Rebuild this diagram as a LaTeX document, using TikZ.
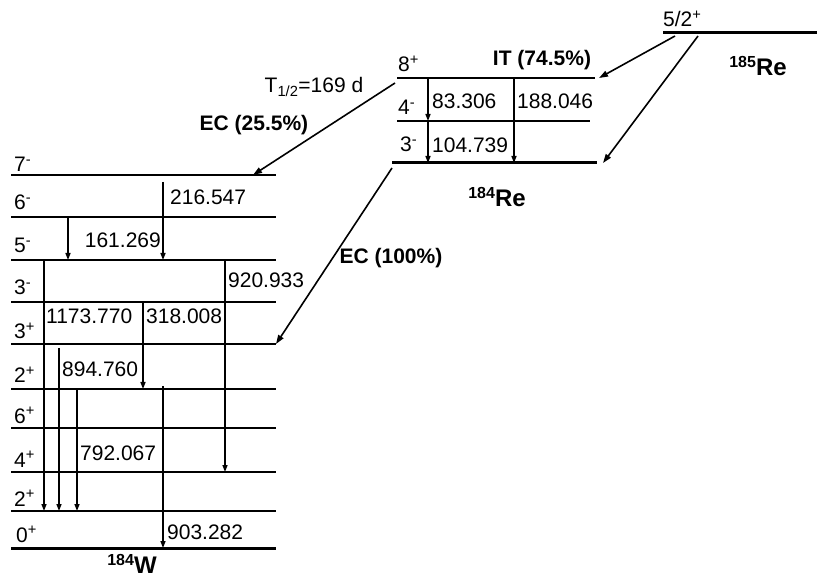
\documentclass[tikz,border=0pt]{standalone}
\usepackage{fontspec}
\setmainfont{Liberation Sans}
\usepackage{tikz}
\usetikzlibrary{arrows.meta, positioning, calc}
\newcommand{\nuc}[2]{\raisebox{8pt}{\fontsize{16}{16}\selectfont #1}#2}
\tikzset{
  lvl/.style={draw, line width=1.3pt},
  gs/.style={draw, line width=3pt},
  gam/.style={draw, -{Triangle[length=7pt, width=5pt]}, line width=1.4pt},
  dec/.style={draw, -{Triangle[length=9pt, width=6pt]}, line width=1.6pt},
}
\begin{document}
\begin{tikzpicture}[x=1pt, y=-1pt,
  every node/.style={font=\fontsize{21}{25}\selectfont},
  spin/.style={anchor=base west, inner sep=0pt},
  en/.style={anchor=west, inner sep=0pt},
  tag/.style={inner sep=0pt, font=\fontsize{21}{25}\selectfont\bfseries},
  nucl/.style={anchor=base, inner sep=0pt, font=\fontsize{24}{28}\selectfont\bfseries}
]
  \useasboundingbox (0,0) rectangle (817,577);

  %% ── 184W levels ──
  \foreach \nm/\y/\b/\js in {7m/175/172/{7\textsuperscript{-}}, 6m/217/210/{6\textsuperscript{-}},
      5m/260/253/{5\textsuperscript{-}}, 3m/302/295/{3\textsuperscript{-}},
      3p/344/339/{3\textsuperscript{+}}, 2pa/389/383/{2\textsuperscript{+}},
      6p/428/423/{6\textsuperscript{+}}, 4p/472/467/{4\textsuperscript{+}},
      2pb/511/506/{2\textsuperscript{+}}} {
    \coordinate (W\nm-l) at (11,\y);
    \coordinate (W\nm-r) at (276,\y);
    \draw[lvl] (W\nm-l) -- (W\nm-r);
    \node[spin] (sW\nm) at (14,\b) {\js};
  }
  \coordinate (W0p-l) at (11,548);
  \coordinate (W0p-r) at (276,548);
  \draw[gs] (W0p-l) -- (W0p-r);
  \node[spin] (sW0p) at (16,542) {0\textsuperscript{+}};
  \node[nucl] (W184) at (132,573) {\nuc{184}{W}};

  %% ── 184W gammas ──
  \coordinate (g216) at (163,182);
  \draw[gam] (g216) -- (163,0 |- W5m-l);
  \draw[gam] (68,0 |- W6m-l) -- (68,0 |- W5m-l);
  \draw[gam] (225,0 |- W5m-l) -- (225,0 |- W4p-l);
  \draw[gam] (44,0 |- W5m-l) -- (44,0 |- W2pb-l);
  \draw[gam] (143,0 |- W3m-l) -- (143,0 |- W2pa-l);
  \draw[gam, shorten <=4pt] (59,0 |- W3p-l) -- (59,0 |- W2pb-l);
  \draw[gam] (77,0 |- W2pa-l) -- (77,0 |- W2pb-l);
  \coordinate (g903) at (163,386);
  \draw[gam] (g903) -- (163,0 |- W0p-l);

  \node[en] (e216) at (170,197) {216.547};
  \node[en, anchor=east] (e161) at (161,240) {161.269};
  \node[en] (e920) at (228,280) {920.933};
  \node[en] (e1173) at (46,316) {1173.770};
  \node[en] (e318) at (146,316) {318.008};
  \node[en] (e894) at (62,369) {894.760};
  \node[en] (e792) at (80,453) {792.067};
  \node[en] (e903) at (167,532) {903.282};

  %% ── 184Re levels ──
  \coordinate (R8p-l) at (397,78);  \coordinate (R8p-r) at (595,78);
  \coordinate (R4m-l) at (397,121); \coordinate (R4m-r) at (590,121);
  \coordinate (R3m-l) at (392,163); \coordinate (R3m-r) at (597,163);
  \draw[lvl, line width=2pt] (R8p-l) -- (R8p-r);
  \draw[lvl, line width=1.6pt] (R4m-l) -- (R4m-r);
  \draw[gs] (R3m-l) -- (R3m-r);
  \node[spin] (sR8p) at (398,72) {8\textsuperscript{+}};
  \node[spin] (sR4m) at (398,115) {4\textsuperscript{-}};
  \node[spin] (sR3m) at (400,152) {3\textsuperscript{-}};
  \node[nucl] (Re184) at (497,207) {\nuc{184}{Re}};

  \draw[gam] (428,0 |- R8p-l) -- (428,0 |- R4m-l);
  \draw[gam] (428,0 |- R4m-l) -- (428,0 |- R3m-l);
  \draw[gam] (514,0 |- R8p-l) -- (514,0 |- R3m-l);
  \node[en] (e83) at (432,101) {83.306};
  \node[en] (e188) at (517,101) {188.046};
  \node[en] (e104) at (432,145) {104.739};

  %% ── 185Re level ──
  \coordinate (R185-l) at (663,33); \coordinate (R185-r) at (817,33);
  \draw[gs] (R185-l) -- (R185-r);
  \node[spin] (sR185) at (663,27) {5/2\textsuperscript{+}};
  \node[nucl] (Re185) at (758,76) {\nuc{185}{Re}};

  %% ── decay branches ──
  \draw[dec] ($(R8p-l)+(-2,5)$) -- (253,0 |- W7m-l);
  \draw[dec] ($(R3m-l)+(0,5)$) -- (W3p-r);
  \draw[dec] ($(R185-l)+(12,3)$) -- ($(R8p-r)+(4,0)$);
  \draw[dec] ($(R185-l)+(35,3)$) -- ($(R3m-r)+(6,0)$);

  \node (thalf) at (314,87) {T\textsubscript{1/2}=169 d};
  \node[tag] (ec25) at (254,125) {EC (25.5\%)};
  \node[tag] (ec100) at (391,258) {EC (100\%)};
  \node[tag] (it74) at (542,60) {IT (74.5\%)};
\end{tikzpicture}
\end{document}
